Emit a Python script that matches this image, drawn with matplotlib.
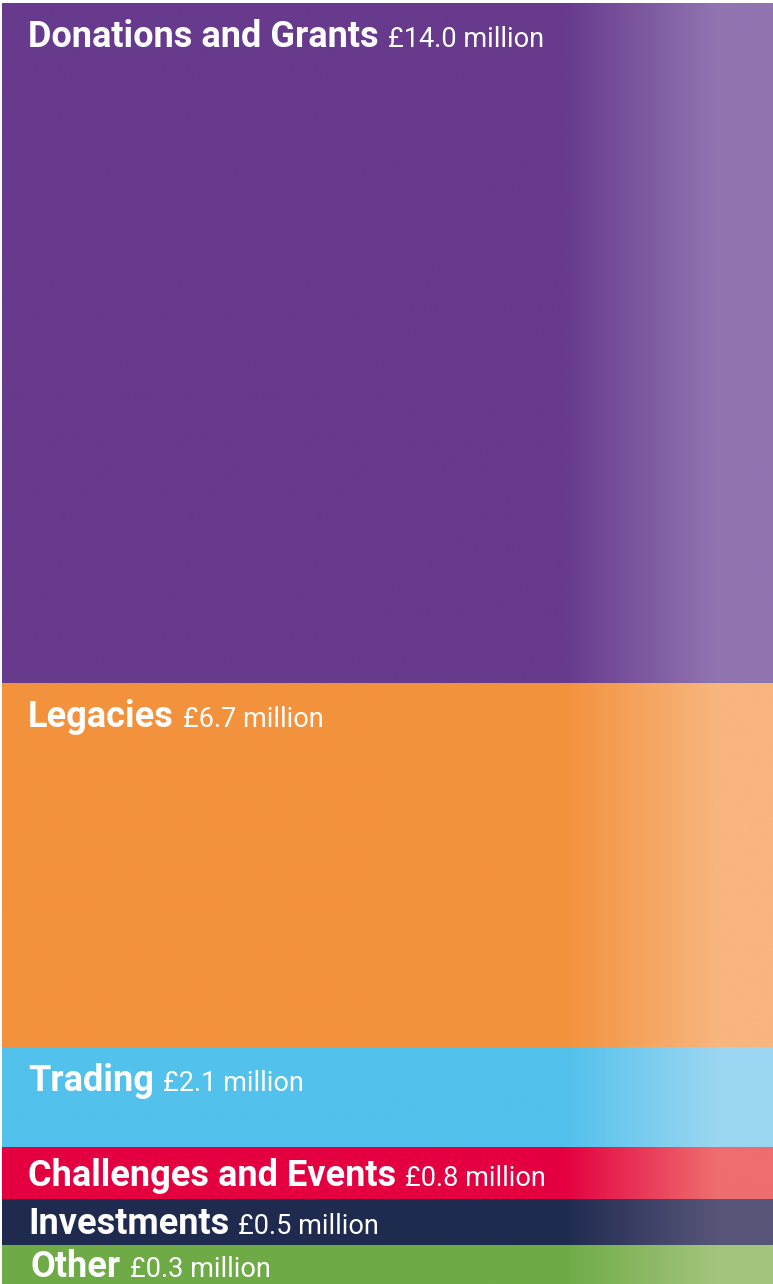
import numpy as np
import matplotlib
matplotlib.use("Agg")
import matplotlib.pyplot as plt
from matplotlib.colors import to_rgb

# income sources, top to bottom
sources = ["Donations and Grants", "Legacies", "Trading",
           "Challenges and Events", "Investments", "Other"]
amounts = [14.0, 6.7, 2.1, 0.8, 0.5, 0.3]  # £ million
# band sizes as drawn in the graphic (small items are given a minimum height)
band_heights = [680, 364, 100, 52, 46, 39]

base_colors = ["#673A8D", "#F3923D", "#52C1EC", "#E40040", "#1F2A4F", "#6EAB46"]
light_colors = ["#9074B0", "#F8B57D", "#9AD6F2", "#EE6D6F", "#565578", "#A3C47D"]

plt.rcParams["font.family"] = ["Roboto", "DejaVu Sans"]

W, H = 773, 1284
fig = plt.figure(figsize=(W / 100, H / 100), dpi=100)
total = sum(band_heights)
ax = fig.add_axes([2 / W, 0, (W - 2) / W, total / H])
ax.set_xlim(0, 1)
ax.set_ylim(total, 0)
ax.axis("off")

# horizontal fade on the right side of every band
xs = np.linspace(0, 1, 512)
fade = np.clip((xs - 0.73) / (0.925 - 0.73), 0, 1)

tops = np.concatenate([[0], np.cumsum(band_heights)[:-1]])
labels = []
for top, h, c0, c1 in zip(tops, band_heights, base_colors, light_colors):
    a, b = np.array(to_rgb(c0)), np.array(to_rgb(c1))
    grad = a[None, :] * (1 - fade[:, None]) + b[None, :] * fade[:, None]
    ax.imshow(grad[None, :, :], extent=[0, 1, top + h, top], aspect="auto",
              interpolation="bilinear", zorder=1)

for i, (name, top, h) in enumerate(zip(sources, tops, band_heights)):
    # baseline sits near the top for tall bands, centred for thin ones
    off = min(44, h / 2 + 12.5)
    xoff = 29 if name == "Other" else 26
    t = ax.annotate(name, xy=(0, top), xytext=(xoff * 0.72, -off * 0.72),
                    textcoords="offset points", ha="left", va="baseline",
                    fontsize=26, fontweight="bold", color="white", zorder=3)
    labels.append(t)

ax.set_ylim(total, 0)
fig.canvas.draw()
renderer = fig.canvas.get_renderer()
for t, amt in zip(labels, amounts):
    bb = t.get_window_extent(renderer)
    ax.annotate(f"£{amt:.1f} million", xy=t.xy, xycoords="data",
                xytext=((bb.x1 - ax.transData.transform(t.xy)[0] + 9) * 0.72,
                        t.xyann[1]),
                textcoords="offset points", ha="left", va="baseline",
                fontsize=19.5, color="white", zorder=3)

fig.savefig("out.png", dpi=100)
